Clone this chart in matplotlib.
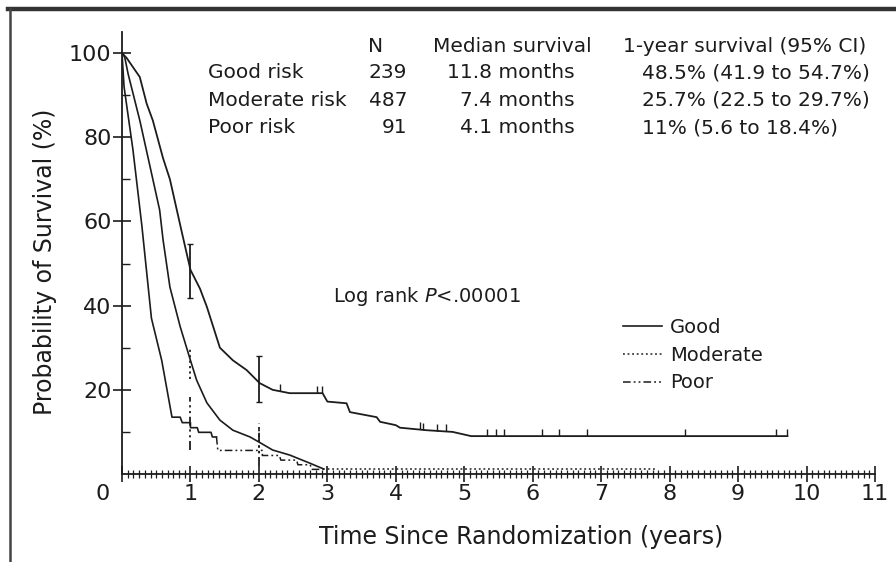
import numpy as np
import matplotlib
matplotlib.use('Agg')
import matplotlib.pyplot as plt
import matplotlib.transforms as mtransforms
from matplotlib.lines import Line2D
from matplotlib.ticker import MultipleLocator, FixedLocator

# Kaplan-Meier curves (years, % surviving)
good_t = [0, 0.07, 0.12, 0.26, 0.36, 0.45, 0.6, 0.7, 0.88, 1.0, 1.14, 1.24, 1.43,
          1.62, 1.82, 2.01, 2.2, 2.45, 2.93, 3.0, 3.28, 3.33, 3.72, 3.77, 4.0,
          4.06, 4.45, 4.83, 5.1, 9.72]
good_s = [100, 98.8, 97.6, 94.3, 88, 84, 75, 70, 57, 48.5, 44, 39.7, 30,
          27, 24.7, 21.6, 20, 19.2, 19.2, 17.2, 16.8, 14.7, 13.5, 12.4, 11.6,
          11.0, 10.4, 10.0, 9.0, 9.0]

mod_t = [0, 0.04, 0.09, 0.26, 0.41, 0.55, 0.6, 0.7, 0.85, 1.0, 1.09, 1.24, 1.43,
         1.62, 1.87, 2.0, 2.2, 2.45, 2.74, 2.93, 7.8]
mod_s = [100, 99, 95, 84, 73, 62.7, 55.6, 44.4, 35, 27, 22.3, 16.9, 12.8,
         10.4, 8.8, 7.6, 5.7, 4.5, 2.6, 1.3, 1.3]

poor_t = [0, 0.03, 0.16, 0.29, 0.43, 0.58, 0.73, 0.85, 0.88, 1.0, 1.0, 1.1, 1.12,
          1.3, 1.32, 1.38, 1.4, 2.05, 2.05, 2.3, 2.32, 2.55, 2.57, 2.75, 2.77, 2.95]
poor_s = [100, 92, 77, 59, 37, 27, 13.5, 13.5, 12.2, 12.2, 11.0, 11.0, 9.9,
          9.9, 8.8, 8.8, 5.6, 5.6, 4.4, 4.4, 3.3, 3.3, 2.2, 2.2, 1.1, 1.1]

# censoring marks on the good-risk curve
good_cens_t = [2.31, 2.85, 2.92, 4.35, 4.39, 4.6, 4.74, 5.33, 5.47, 5.58,
               6.13, 6.39, 6.8, 8.22, 9.56, 9.71]
good_cens_s = [19.6, 19.2, 19.2, 10.6, 10.5, 10.2, 10.1, 9.0, 9.0, 9.0,
               9.0, 9.0, 9.0, 9.0, 9.0, 9.0]

# 95% CI bars at 1 and 2 years
ci_t = [1, 2]
good_ci = ([41.9, 17.0], [54.7, 28.0])
mod_ci = ([22.5, 5.0], [29.7, 11.2])
poor_ci = ([5.6, 1.8], [18.4, 12.0])

# table in the upper part
groups = ['Good risk', 'Moderate risk', 'Poor risk']
n_pat = ['239', '487', '91']
median_surv = ['11.8 months', '7.4 months', '4.1 months']
one_year = ['48.5% (41.9 to 54.7%)', '25.7% (22.5 to 29.7%)', '11% (5.6 to 18.4%)']

legend_labels = ['Good', 'Moderate', 'Poor']
x_ticks = list(range(0, 12))
y_ticks = [20, 40, 60, 80, 100]

W, H = 896, 562
ink = '#1c1c1c'
dotted = (0, (1.2, 1.8))
dashdotdot = (0, (5, 2, 1.2, 2, 1.2, 2))


def px(x, y):
    return x / W, 1 - y / H


fig = plt.figure(figsize=(W / 100, H / 100), dpi=100)
ax = fig.add_axes([122 / W, 88 / H, 753 / W, 442 / H])

# curves: steep parts look solid in the print, flat tails show the dash pattern
ax.plot(good_t, good_s, color=ink, lw=1.3)
k = mod_t.index(2.93)
ax.plot(mod_t[:k + 1], mod_s[:k + 1], color=ink, lw=1.2)
ax.plot(mod_t[k:], mod_s[k:], color=ink, lw=1.1, ls=dotted)
k = poor_t.index(1.38)
ax.plot(poor_t[:k + 1], poor_s[:k + 1], color=ink, lw=1.2)
ax.plot(poor_t[k:], poor_s[k:], color=ink, lw=1.1, ls=dashdotdot)

ax.plot(good_cens_t, good_cens_s, ls='none', marker=2, ms=5, mew=1.0, color=ink)

ax.errorbar(ci_t, [(a + b) / 2 for a, b in zip(*good_ci)],
            yerr=[[(b - a) / 2 for a, b in zip(*good_ci)]] * 2,
            fmt='none', ecolor=ink, elinewidth=1.3, capsize=2.5, capthick=1.0)
ax.vlines(ci_t, mod_ci[0], mod_ci[1], colors=ink, lw=1.3, linestyles=[dotted])
ax.vlines(ci_t, poor_ci[0], poor_ci[1], colors=ink, lw=1.3, linestyles=[dashdotdot])

ax.set_xlim(0, 11)
ax.set_ylim(0, 105)
for side in ['top', 'right']:
    ax.spines[side].set_visible(False)
for side in ['left', 'bottom']:
    ax.spines[side].set_color(ink)
    ax.spines[side].set_linewidth(1.3)

ax.xaxis.set_major_locator(FixedLocator(x_ticks))
ax.set_xticklabels([str(v) for v in x_ticks])
ax.xaxis.set_minor_locator(MultipleLocator(1 / 12))
ax.yaxis.set_major_locator(FixedLocator(y_ticks))
ax.set_yticklabels([str(v) for v in y_ticks])
ax.yaxis.set_minor_locator(FixedLocator([10, 30, 50, 70, 90]))

ax.tick_params(axis='x', which='major', direction='inout', length=12, width=1.2,
               color=ink, labelsize=16, labelcolor=ink, pad=1.5)
ax.tick_params(axis='x', which='minor', direction='inout', length=6, width=0.9, color=ink)
ax.tick_params(axis='y', which='major', direction='inout', length=13, width=1.2,
               color=ink, labelsize=16, labelcolor=ink, pad=1)
ax.tick_params(axis='y', which='minor', direction='in', length=6, width=1.0, color=ink)

# the "0" sits left of the y axis in the original
zero_lab = ax.get_xticklabels()[0]
zero_lab.set_transform(zero_lab.get_transform() +
                       mtransforms.ScaledTranslation(-0.19, 0, fig.dpi_scale_trans))

fig.text(*px(521, 537), 'Time Since Randomization (years)', ha='center', va='center',
         fontsize=17, color=ink)
fig.text(*px(45, 262), 'Probability of Survival (%)', ha='center', va='center',
         rotation=90, fontsize=17, color=ink)

# table
fs = 14.5
fig.text(*px(368, 47), 'N', ha='left', va='center', fontsize=fs, color=ink)
fig.text(*px(512, 47), 'Median survival', ha='center', va='center', fontsize=fs, color=ink)
fig.text(*px(623, 47), '1-year survival (95% CI)', ha='left', va='center', fontsize=fs, color=ink)
row_y = [73, 100, 128]
for i in range(len(groups)):
    fig.text(*px(208, row_y[i]), groups[i], ha='left', va='center', fontsize=fs, color=ink)
    fig.text(*px(407, row_y[i]), n_pat[i], ha='right', va='center', fontsize=fs, color=ink)
    fig.text(*px(575, row_y[i]), median_surv[i], ha='right', va='center', fontsize=fs, color=ink)
    fig.text(*px(642, row_y[i]), one_year[i], ha='left', va='center', fontsize=fs, color=ink)

fig.text(*px(333, 297), r'Log rank $\it{P}$<.00001', ha='left', va='center',
         fontsize=14, color=ink)

handles = [Line2D([], [], color=ink, lw=1.2, ls='-'),
           Line2D([], [], color=ink, lw=1.1, ls=dotted),
           Line2D([], [], color=ink, lw=1.1, ls=dashdotdot)]
ax.legend(handles, legend_labels, loc='upper left', bbox_to_anchor=px(623, 318),
          bbox_transform=fig.transFigure, frameon=False, fontsize=14,
          handlelength=2.0, handletextpad=0.4, labelspacing=0.45,
          borderpad=0, borderaxespad=0, labelcolor=ink)

# frame lines of the original figure panel
fig.add_artist(Line2D([8 / W, 1], [1 - 9 / H, 1 - 9 / H], transform=fig.transFigure,
                      color='#333333', lw=3.2))
fig.add_artist(Line2D([10 / W, 10 / W], [1 - 9 / H, 0], transform=fig.transFigure,
                      color='#444444', lw=1.8))

fig.savefig('out.png', dpi=100)
